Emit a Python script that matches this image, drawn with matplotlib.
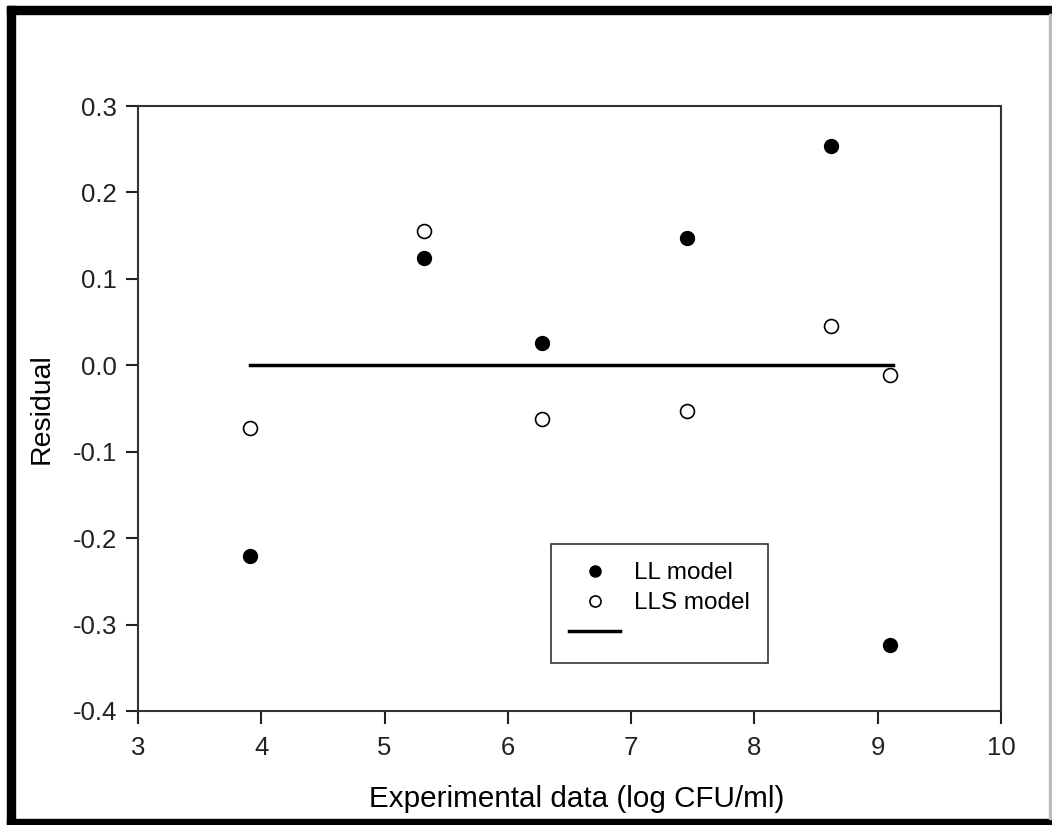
import matplotlib.pyplot as plt
from matplotlib.patches import Rectangle

plt.rcParams['font.family'] = ['Liberation Sans', 'DejaVu Sans']

# experimental data (log CFU/ml)
x_exp = [3.91, 5.32, 6.28, 7.45, 8.62, 9.10]
# residuals
res_ll = [-0.221, 0.124, 0.026, 0.147, 0.254, -0.324]
res_lls = [-0.072, 0.155, -0.062, -0.053, 0.045, -0.011]
# zero reference line
zero_x = [3.91, 9.12]
zero_y = [0.0, 0.0]

W, H = 1052, 825
fig = plt.figure(figsize=(W / 100, H / 100), dpi=100)
ax = fig.add_axes([138 / W, 1 - 711 / H, 863 / W, 605 / H])

ax.plot(x_exp, res_ll, 'o', color='black', ms=10, label='LL model')
ax.plot(x_exp, res_lls, 'o', mfc='white', mec='black', mew=1.2, ms=10, label='LLS model')
ax.plot(zero_x, zero_y, '-', color='black', lw=2.5, label=' ')

ax.set_xlim(3, 10)
ax.set_ylim(-0.4, 0.3)
ax.set_xticks(range(3, 11))
ax.set_yticks([-0.4, -0.3, -0.2, -0.1, 0.0, 0.1, 0.2, 0.3])
ax.set_yticklabels(['-0.4', '-0.3', '-0.2', '-0.1', '0.0', '0.1', '0.2', '0.3'])
ax.tick_params(direction='out', length=9, width=1.5, labelsize=18.5, pad=6, colors='#222222')
ax.tick_params(axis='x', pad=9)
for sp in ax.spines.values():
    sp.set_linewidth(1.5)
    sp.set_color('#333333')

ax.set_xlabel('Experimental data (log CFU/ml)', fontsize=21.3)
ax.xaxis.set_label_coords(0.508, -0.122, transform=ax.transAxes)
ax.xaxis.label.set_va('top')
ax.set_ylabel('Residual', fontsize=20.5, labelpad=13)

leg = ax.legend(loc='upper left', bbox_to_anchor=(413 / 863, (711 - 544) / 605),
                borderaxespad=0, frameon=True, fancybox=False, edgecolor='black',
                fontsize=17.5, markerscale=0.8, handlelength=2.1, handletextpad=0.55,
                borderpad=0.75, labelspacing=0.33)
leg.get_frame().set_linewidth(1.2)

# thick black frame around the picture
def band(x0, y0, x1, y1, color='black'):
    fig.patches.append(Rectangle((x0 / W, 1 - y1 / H), (x1 - x0) / W, (y1 - y0) / H,
                                 transform=fig.transFigure, color=color))

band(7, 6, 1051, 14)
band(7, 6, 15, 825)
band(7, 819, 1051, 825)
band(1049, 14, 1051, 819, '#bbbbbb')

fig.savefig('out.png', dpi=100)
